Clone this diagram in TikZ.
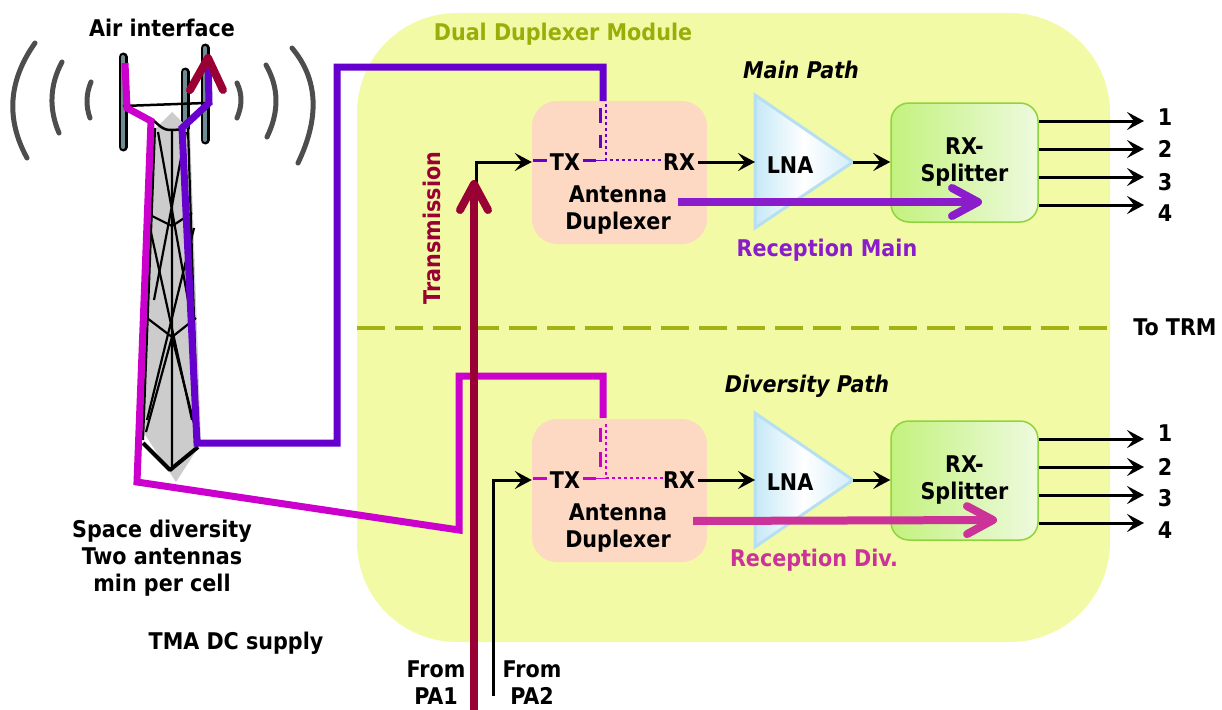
\documentclass[tikz,border=0pt]{standalone}
\usepackage{fontspec}
\setmainfont{DejaVu Sans Condensed}
\usetikzlibrary{arrows.meta}

\definecolor{modyellow}{HTML}{F3FAA5}
\definecolor{modtitle}{HTML}{9AAE0A}
\definecolor{divline}{HTML}{A3B214}
\definecolor{mainfeed}{HTML}{6600CC}
\definecolor{divfeed}{HTML}{CC00CC}
\definecolor{txred}{HTML}{990033}
\definecolor{recmain}{HTML}{8A1CCC}
\definecolor{recdiv}{HTML}{CC3399}
\definecolor{duppeach}{HTML}{FDD9C4}
\definecolor{lnablue}{HTML}{C6E8F7}
\definecolor{lnaedge}{HTML}{B6E0F2}
\definecolor{splgreen}{HTML}{C3F27E}
\definecolor{spllight}{HTML}{EEFADE}
\definecolor{spledge}{HTML}{8ED43C}
\definecolor{wavegray}{HTML}{4D4D4D}
\definecolor{rodgray}{HTML}{6E8C93}
\definecolor{towergray}{HTML}{CCCCCC}

\tikzset{
  module/.style={fill=modyellow, rounded corners=100pt, minimum width=753pt, minimum height=629pt},
  divider/.style={draw=divline, line width=4pt, dash pattern=on 28pt off 10pt},
  pathlabel/.style={font=\fontsize{23}{27}\selectfont\bfseries\itshape},
  dupbox/.style={fill=duppeach, rounded corners=25pt, minimum width=175pt, minimum height=143pt},
  splitbox/.style={draw=spledge, line width=1.5pt, left color=splgreen, right color=spllight,
    rounded corners=18pt, minimum width=147pt, minimum height=119pt, align=center},
  lna/.style={draw=lnaedge, line width=3pt, left color=lnablue, right color=lnablue!80, middle color=white},
  sig/.style={line width=3pt, -{Stealth[length=17pt,width=18pt,inset=7pt]}},
  feeder/.style={line width=7pt, line join=miter},
  bigarrow/.style={line width=8pt, -{Straight Barb[length=26pt,width=28pt,round]}},
  dupdash/.style={line width=3pt},
  dupdot/.style={line width=2.5pt, dash pattern=on 2.5pt off 3.5pt},
  wave/.style={draw=wavegray, line width=5pt, line cap=round},
  rod/.style={draw=black, line width=2.5pt, double=rodgray, double distance=4pt, line cap=round},
  lattice/.style={line width=2.2pt}
}

\begin{document}
\begin{tikzpicture}[x=1pt,y=-1pt,font=\fontsize{23}{27}\selectfont\bfseries]
\useasboundingbox (0,0) rectangle (1222,709);

% duplexer module background
\node[module] (ddm) at (733.5,327.5) {};
\node[text=modtitle] (ddmtitle) at (563,34) {Dual Duplexer Module};
\draw[divider] (ddm.west) -- (ddm.east);
\node (totrm) at (1175,327) {To TRM};
\node[pathlabel] (mainpath) at (801,70) {Main Path};
\node[pathlabel] (divpath) at (807,386) {Diversity Path};

% radio waves
\draw[wave] (35,43) .. controls (8.3,80.7) and (5.7,119) .. (27,158);
\draw[wave] (62,62) .. controls (49.7,85) and (48.7,108.7) .. (59,133);
\draw[wave] (91,82) .. controls (86,94) and (85.7,106) .. (90,118);
\draw[wave] (237,83) .. controls (242.3,94) and (242.3,105.7) .. (237,118);
\draw[wave] (266,65) .. controls (279,87.7) and (279.3,111.7) .. (267,137);
\draw[wave] (292,48) .. controls (318,79) and (320,117) .. (298,163);

% antenna tower
\draw[rod] (123,57) -- (123,147);
\draw[rod] (185,72) -- (185,140);
\draw[rod] (205,48) -- (205,140);
\draw[line width=2.5pt] (123,106) -- (205,103);
\fill[towergray] (172,112) -- (190,130) -- (201,443) -- (176,482) -- (142,430) -- (154,130) -- cycle;
\draw[line width=2.5pt] (153,120) .. controls (165,131) .. (184,129);
\draw[lattice] (155,128) -- (143,440) (188,128) -- (198,445) (172,130) -- (172,470);
\draw[lattice] (158,132) -- (188,300) (186,132) -- (154,300);
\draw[lattice] (150,228) -- (192,420) (194,228) -- (147,420);
\draw[lattice] (150,215) -- (172,226) -- (192,213);
\draw[lattice] (147,318) -- (172,337) -- (196,318);
\draw[lattice] (172,337) -- (146,432) (172,337) -- (197,435);
\draw[line width=4pt, line join=round] (143,443) -- (170,470) -- (198,447);

\coordinate (antdiv) at (125,63);
\coordinate (antmain) at (208,58);

% main path
\node[dupbox] (dup1) at (619.5,172.5) {};
\node (tx1) at (565,162) {TX};
\node (rx1) at (679,162) {RX};
\node[align=center] (dup1txt) at (618,210) {Antenna\\Duplexer};
\coordinate (dup1feed) at (603,101);
\draw[dupdash, draw=mainfeed] (600,108) -- (600,123) (600,135) -- (600,148)
  (533,160) -- (547,160) (583,160) -- (596,160);
\draw[line width=1pt, draw=mainfeed] (596,160) -- (606,160);
\draw[dupdot, draw=mainfeed] (606,104) -- (606,160) -- (664,160);

\coordinate (lna1w) at (755,162);
\coordinate (lna1tip) at (853,162);
\filldraw[lna] (755,95) -- (lna1tip) -- (755,228) -- cycle;
\node (lna1) at (790,165) {LNA};
\node[splitbox] (spl1) at (964.5,162.5) {RX-\\Splitter};
\draw[sig] (rx1) -- (lna1w);
\draw[sig] (lna1tip) -- (spl1.west |- lna1tip);
\foreach \i/\ya/\yl in {1/121/117, 2/149/149, 3/177/182, 4/205/213} {
  \coordinate (out1\i) at (1144,\ya);
  \node (lab1\i) at (1165,\yl) {\i};
  \draw[sig] (spl1.east |- out1\i) -- (out1\i);
}
\coordinate (rm1s) at (678,202);
\coordinate (rm1e) at (982,202);
\draw[bigarrow, draw=recmain] (rm1s) -- (rm1e);
\node[text=recmain] (recmainlab) at (827,250) {Reception Main};

% diversity path
\node[dupbox] (dup2) at (619.5,490.5) {};
\node (tx2) at (565,480) {TX};
\node (rx2) at (679,480) {RX};
\node[align=center] (dup2txt) at (618,528) {Antenna\\Duplexer};
\coordinate (dup2feed) at (603,418);
\draw[dupdash, draw=divfeed] (600,428) -- (600,442) (600,452) -- (600,467)
  (533,478) -- (547,478) (583,478) -- (596,478);
\draw[line width=1pt, draw=divfeed] (596,478) -- (606,478);
\draw[dupdot, draw=divfeed] (606,424) -- (606,478) -- (664,478);

\coordinate (lna2w) at (755,480);
\coordinate (lna2tip) at (853,480);
\filldraw[lna] (755,413) -- (lna2tip) -- (755,547) -- cycle;
\node (lna2) at (790,482) {LNA};
\node[splitbox] (spl2) at (964.5,480.5) {RX-\\Splitter};
\draw[sig] (rx2) -- (lna2w);
\draw[sig] (lna2tip) -- (spl2.west |- lna2tip);
\foreach \i/\ya/\yl in {1/439/433, 2/467/467, 3/495/498, 4/523/530} {
  \coordinate (out2\i) at (1144,\ya);
  \node (lab2\i) at (1165,\yl) {\i};
  \draw[sig] (spl2.east |- out2\i) -- (out2\i);
}
\coordinate (rd2s) at (693,521);
\coordinate (rd2e) at (997,520);
\draw[bigarrow, draw=recdiv] (rd2s) -- (rd2e);
\node[text=recdiv] (recdivlab) at (814,560) {Reception Div.};

% feeders from the antennas
\draw[feeder, draw=mainfeed] (antmain) -- (209,103) -- (182,128) -- (197,443)
  -- (337,443) -- (337,67) -| (dup1feed);
\draw[feeder, draw=divfeed] (antdiv) -- (127,108) -- (151,121) -- (137,482)
  -- (459,530) -- (459,376) -| (dup2feed);
\draw[line width=8pt, draw=txred, line cap=round, line join=round] (190,90) -- (208,58) -- (223,90);

% transmit inputs
\coordinate (pa1) at (476,709);
\coordinate (pa2) at (493,696);
\draw[sig] (pa1) |- (dup1.west |- tx1);
\draw[sig] (pa2) |- (dup2.west |- tx2);
\coordinate (txbot) at (474,712);
\coordinate (txtop) at (474,180);
\draw[bigarrow, draw=txred] (txbot) -- (txtop);
\node[rotate=90, text=txred] (txlab) at (432,228) {Transmission};

% captions
\node (airif) at (162,28) {Air interface};
\node[align=center] (spacediv) at (162,558) {Space diversity\\Two antennas\\min per cell};
\node (tmadc) at (236,643) {TMA DC supply};
\node[align=center] (frompa1) at (436,683) {From\\PA1};
\node[align=center] (frompa2) at (532,683) {From\\PA2};
\end{tikzpicture}
\end{document}
